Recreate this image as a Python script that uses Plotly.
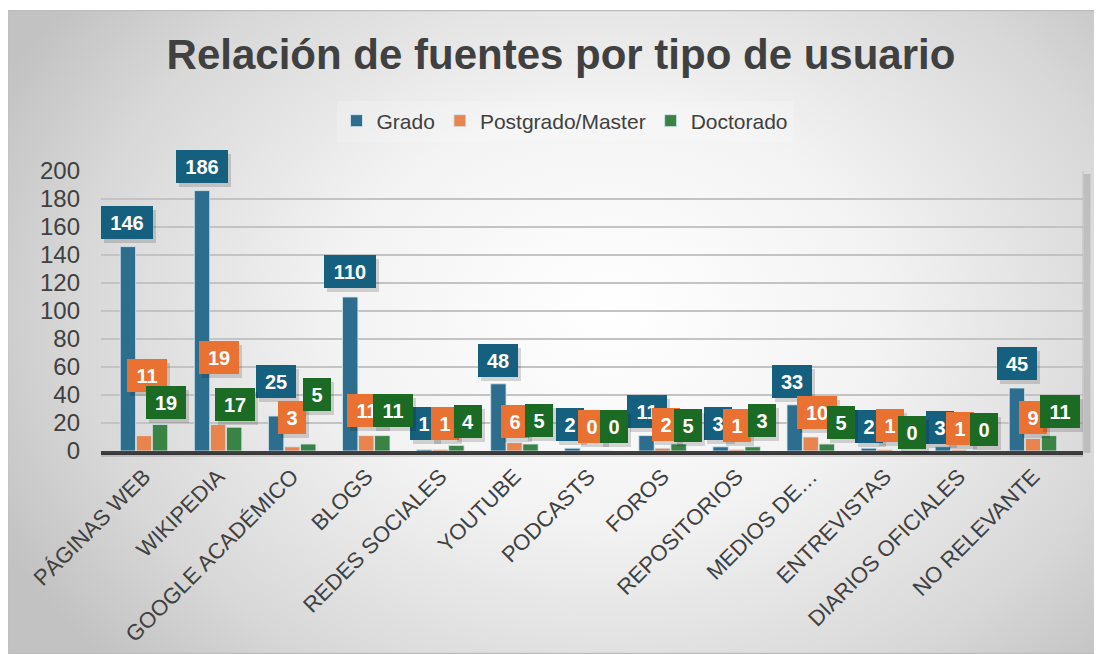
import base64
import plotly.graph_objects as go

categories = ["PÁGINAS WEB", "WIKIPEDIA", "GOOGLE ACADÉMICO", "BLOGS", "REDES SOCIALES",
              "YOUTUBE", "PODCASTS", "FOROS", "REPOSITORIOS", "MEDIOS DE…",
              "ENTREVISTAS", "DIARIOS OFICIALES", "NO RELEVANTE"]
grado = [146, 186, 25, 110, 1, 48, 2, 11, 3, 33, 2, 3, 45]
postgrado = [11, 19, 3, 11, 1, 6, 0, 2, 1, 10, 1, 1, 9]
doctorado = [19, 17, 5, 11, 4, 5, 0, 5, 3, 5, 0, 0, 11]
y_ticks = [0, 20, 40, 60, 80, 100, 120, 140, 160, 180, 200]

# data-callout placement (layout only): centre height in axis units and pixel shift
grado_lab_y = [163, 203, 50, 128, 20, 65, 19, 28, 20, 50, 17.5, 17, 62.5]
grado_lab_dx = [-17, -16, -16, -16, -16, -16, -19, -16, -19, -19, -16, -19, -16]
post_lab_y = [53.6, 67, 24, 28.6, 20, 21, 17.5, 19, 18, 27.5, 18, 16, 24]
post_lab_dx = [3, 1, 0, 1, 5, 1, 3, 3, 0, 6, 5, 1, 0]
doc_lab_y = [35, 33, 40.5, 28.6, 21, 22, 17.5, 18, 22, 20.5, 13, 15.5, 28]
doc_lab_dx = [22, 17, 25, 27, 28, 25, 25, 25, 25, 30, 27, 25, 27]

FONT = "Liberation Sans, Arial, sans-serif"
TXT = "#404040"
YMAX = 200

# page offset of the figure (browser body margin)
OFF = 8
W, H = 1102 - OFF, 654 - OFF
L, R, T, B = 101 - OFF, 1083 - OFF, 171 - OFF, 451 - OFF
pw, ph = R - L, B - T

series = [
    ("Grado", grado, "#2D6E8E", "#15607F", grado_lab_y, grado_lab_dx),
    ("Postgrado/Master", postgrado, "#E8854F", "#E97132", post_lab_y, post_lab_dx),
    ("Doctorado", doctorado, "#3B8245", "#1B6B25", doc_lab_y, doc_lab_dx),
]

fig = go.Figure()
for name, vals, col, _, _, _ in series:
    fig.add_trace(go.Bar(
        x=categories, y=vals, name=name,
        marker=dict(color=col, line=dict(color="rgba(215,232,240,0.85)", width=1)),
        hoverinfo="x+y+name",
    ))

annotations = []
for name, vals, _, labcol, ly, ldx in series:
    for shadow in (True, False):
        for i, v in enumerate(vals):
            w = 16 + 12 * len(str(v))
            yy = min(ly[i], YMAX)
            ysh = (ly[i] - yy) * ph / YMAX
            if shadow:
                annotations.append(dict(
                    x=categories[i], y=yy, xref="x", yref="y", xshift=ldx[i] + 3, yshift=ysh - 4,
                    text=" ", showarrow=False, width=w, height=33, borderpad=0, borderwidth=0,
                    bgcolor="rgba(0,0,0,0.15)"))
            else:
                annotations.append(dict(
                    x=categories[i], y=yy, xref="x", yref="y", xshift=ldx[i], yshift=ysh,
                    text=f"<b>{v}</b>", showarrow=False, width=w, height=33, borderpad=0,
                    borderwidth=0, bgcolor=labcol, align="center", valign="middle",
                    font=dict(family=FONT, size=20, color="white")))

svg = """<svg xmlns='http://www.w3.org/2000/svg' width='1095' height='644' viewBox='0 0 1095 644' preserveAspectRatio='none'>
<defs><radialGradient id='g' cx='0.55' cy='0.47' r='0.62' gradientTransform='translate(0.55 0.47) scale(1 1.3) translate(-0.55 -0.47)'>
<stop offset='0' stop-color='#ffffff'/><stop offset='0.4' stop-color='#f3f3f3'/>
<stop offset='0.78' stop-color='#d8d8d8'/><stop offset='1' stop-color='#c2c2c2'/></radialGradient></defs>
<rect width='1095' height='644' fill='url(#g)'/>
<rect x='0.5' y='0.5' width='1094' height='643' fill='none' stroke='#bdbdbd' stroke-width='1.5'/></svg>"""
src = "data:image/svg+xml;base64," + base64.b64encode(svg.encode()).decode()

def px(xp):  # reference page x -> paper
    return (xp - OFF - L) / pw
def py(yp):  # reference page y -> paper
    return (B - (yp - OFF)) / ph

fig.update_layout(
    width=W, height=H,
    margin=dict(l=L, r=W - R, t=T, b=H - B, autoexpand=False),
    paper_bgcolor="white",
    plot_bgcolor="rgba(255,255,255,0.2)",
    barmode="group", bargap=0.35, bargroupgap=0.04,
    font=dict(family=FONT, color=TXT),
    title=dict(text="Relación de fuentes por tipo de usuario", xref="container", yref="container",
               x=(561 - OFF) / W, y=1 - (54 - OFF) / H, xanchor="center", yanchor="middle",
               font=dict(family=FONT, size=42, color=TXT, weight=700)),
    legend=dict(orientation="h", x=px(565), y=py(121), xanchor="center", yanchor="middle",
                font=dict(family=FONT, size=21, color=TXT), bgcolor="rgba(255,255,255,0.18)",
                itemclick=False, itemwidth=30),
    xaxis=dict(tickangle=-45, tickfont=dict(family=FONT, size=22, color=TXT), automargin=False,
               showline=True, linecolor="#404040", linewidth=4, ticks="", showgrid=False,
               fixedrange=True),
    yaxis=dict(range=[0, YMAX], tickvals=y_ticks, tickfont=dict(family=FONT, size=24, color=TXT),
               showgrid=True, gridcolor="#c3c3c3", gridwidth=2, zeroline=False, automargin=False,
               ticklabelstandoff=20, fixedrange=True),
    annotations=annotations,
    images=[dict(source=src, xref="paper", yref="paper", x=px(7), y=py(10),
                 sizex=px(1102) - px(7), sizey=py(10) - py(654), xanchor="left", yanchor="top",
                 sizing="stretch", layer="below")],
    shapes=[dict(type="line", xref="paper", yref="paper", x0=1.0 + 4 / pw, x1=1.0 + 4 / pw,
                 y0=-2 / ph, y1=1.0 - 3 / ph, line=dict(color="rgba(0,0,0,0.13)", width=7)),
            dict(type="line", xref="paper", yref="paper", x0=1.0, x1=1.0, y0=0, y1=1.0,
                 line=dict(color="rgba(190,190,190,0.9)", width=1)),
            dict(type="line", xref="paper", yref="paper", x0=0, x1=1.0, y0=-4 / ph, y1=-4 / ph,
                 line=dict(color="rgba(0,0,0,0.12)", width=4))],
)

fig.write_html("out.html")
